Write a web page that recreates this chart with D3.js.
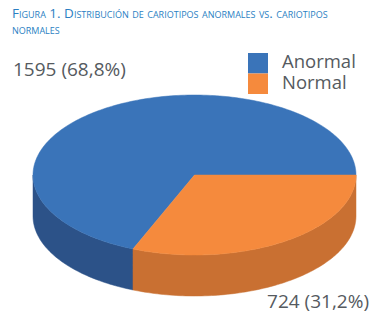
<!DOCTYPE html>
<html>
<head>
<meta charset="utf-8">
<script src="https://cdnjs.cloudflare.com/ajax/libs/d3/7.8.5/d3.min.js"></script>
<style>
  body { margin: 0; background: #fff; }
  svg { display: block; }
</style>
</head>
<body>
<svg id="chart" width="381" height="319"></svg>
<script>
var categories = ['Anormal', 'Normal'];
var counts = [1595, 724];
var percentLabels = ['68,8%', '31,2%'];
var topColors = ['#3a74b9', '#f58a3d'];
var sideColors = ['#2c5288', '#c97032'];

var svg = d3.select('#chart');

var pie3d = {
    cx: 194.5,
    cy: 175,
    rx: 161.5,
    ry: 80,
    depth: 41
};

// title, small caps
var title = svg.append('text')
    .attr('fill', '#2b7fc3')
    .attr('font-family', 'Open Sans, sans-serif')
    .attr('font-size', 13.5)
    .style('font-variant', 'small-caps');
title.append('tspan').attr('x', 12).attr('y', 18)
    .text('Figura 1. Distribución de cariotipos anormales vs. cariotipos');
title.append('tspan').attr('x', 12).attr('y', 34)
    .text('normales');

var total = d3.sum(counts);
var start = Math.PI / 2 - 2 * Math.PI * counts[0] / total;

var pie = d3.pie()
    .sort(null)
    .startAngle(start)
    .endAngle(start + 2 * Math.PI);

var arcs = pie(counts);

function pt(a, dy) {
    return [pie3d.cx + pie3d.rx * Math.sin(a),
        pie3d.cy - pie3d.ry * Math.cos(a) + (dy || 0)];
}

function sample(a0, a1, dy) {
    var n = Math.max(2, Math.ceil(Math.abs(a1 - a0) / 0.02));
    return d3.range(n + 1).map(function(i) {
        return pt(a0 + (a1 - a0) * i / n, dy);
    });
}

var line = d3.line();

// side walls, only the front half is visible
arcs.forEach(function(d, i) {
    var lo = Math.PI / 2, hi = 3 * Math.PI / 2;
    var a0 = d.startAngle, a1 = d.endAngle;
    [-2 * Math.PI, 0, 2 * Math.PI].forEach(function(shift) {
        var s = Math.max(a0, lo + shift), e = Math.min(a1, hi + shift);
        if (e <= s) return;
        var pts = sample(s, e, 0).concat(sample(e, s, pie3d.depth));
        svg.append('path')
            .attr('d', line(pts) + 'Z')
            .attr('fill', sideColors[i])
            .attr('stroke', sideColors[i])
            .attr('stroke-width', 0.5);
    });
});

// top faces
arcs.forEach(function(d, i) {
    var pts = [[pie3d.cx, pie3d.cy]].concat(sample(d.startAngle, d.endAngle, 0));
    svg.append('path')
        .attr('d', line(pts) + 'Z')
        .attr('fill', topColors[i])
        .attr('stroke', topColors[i])
        .attr('stroke-width', 0.5);
});

// data labels
var labelPos = [[13, 76, 'start'], [369, 308, 'end']];
arcs.forEach(function(d, i) {
    svg.append('text')
        .attr('x', labelPos[i][0])
        .attr('y', labelPos[i][1])
        .attr('text-anchor', labelPos[i][2])
        .attr('fill', '#555a60')
        .attr('font-family', 'Open Sans, sans-serif')
        .attr('font-size', 19)
        .text(counts[i] + ' (' + percentLabels[i] + ')');
});

// legend
var legend = svg.append('g').attr('transform', 'translate(248,53)');
categories.forEach(function(c, i) {
    legend.append('rect')
        .attr('x', 0)
        .attr('y', i * 20.5)
        .attr('width', 20)
        .attr('height', 20.5)
        .attr('fill', topColors[i]);
    legend.append('text')
        .attr('x', 34)
        .attr('y', 15 + i * 21)
        .attr('fill', '#555a60')
        .attr('font-family', 'Open Sans, sans-serif')
        .attr('font-size', 18.5)
        .text(c);
});
</script>
</body>
</html>
